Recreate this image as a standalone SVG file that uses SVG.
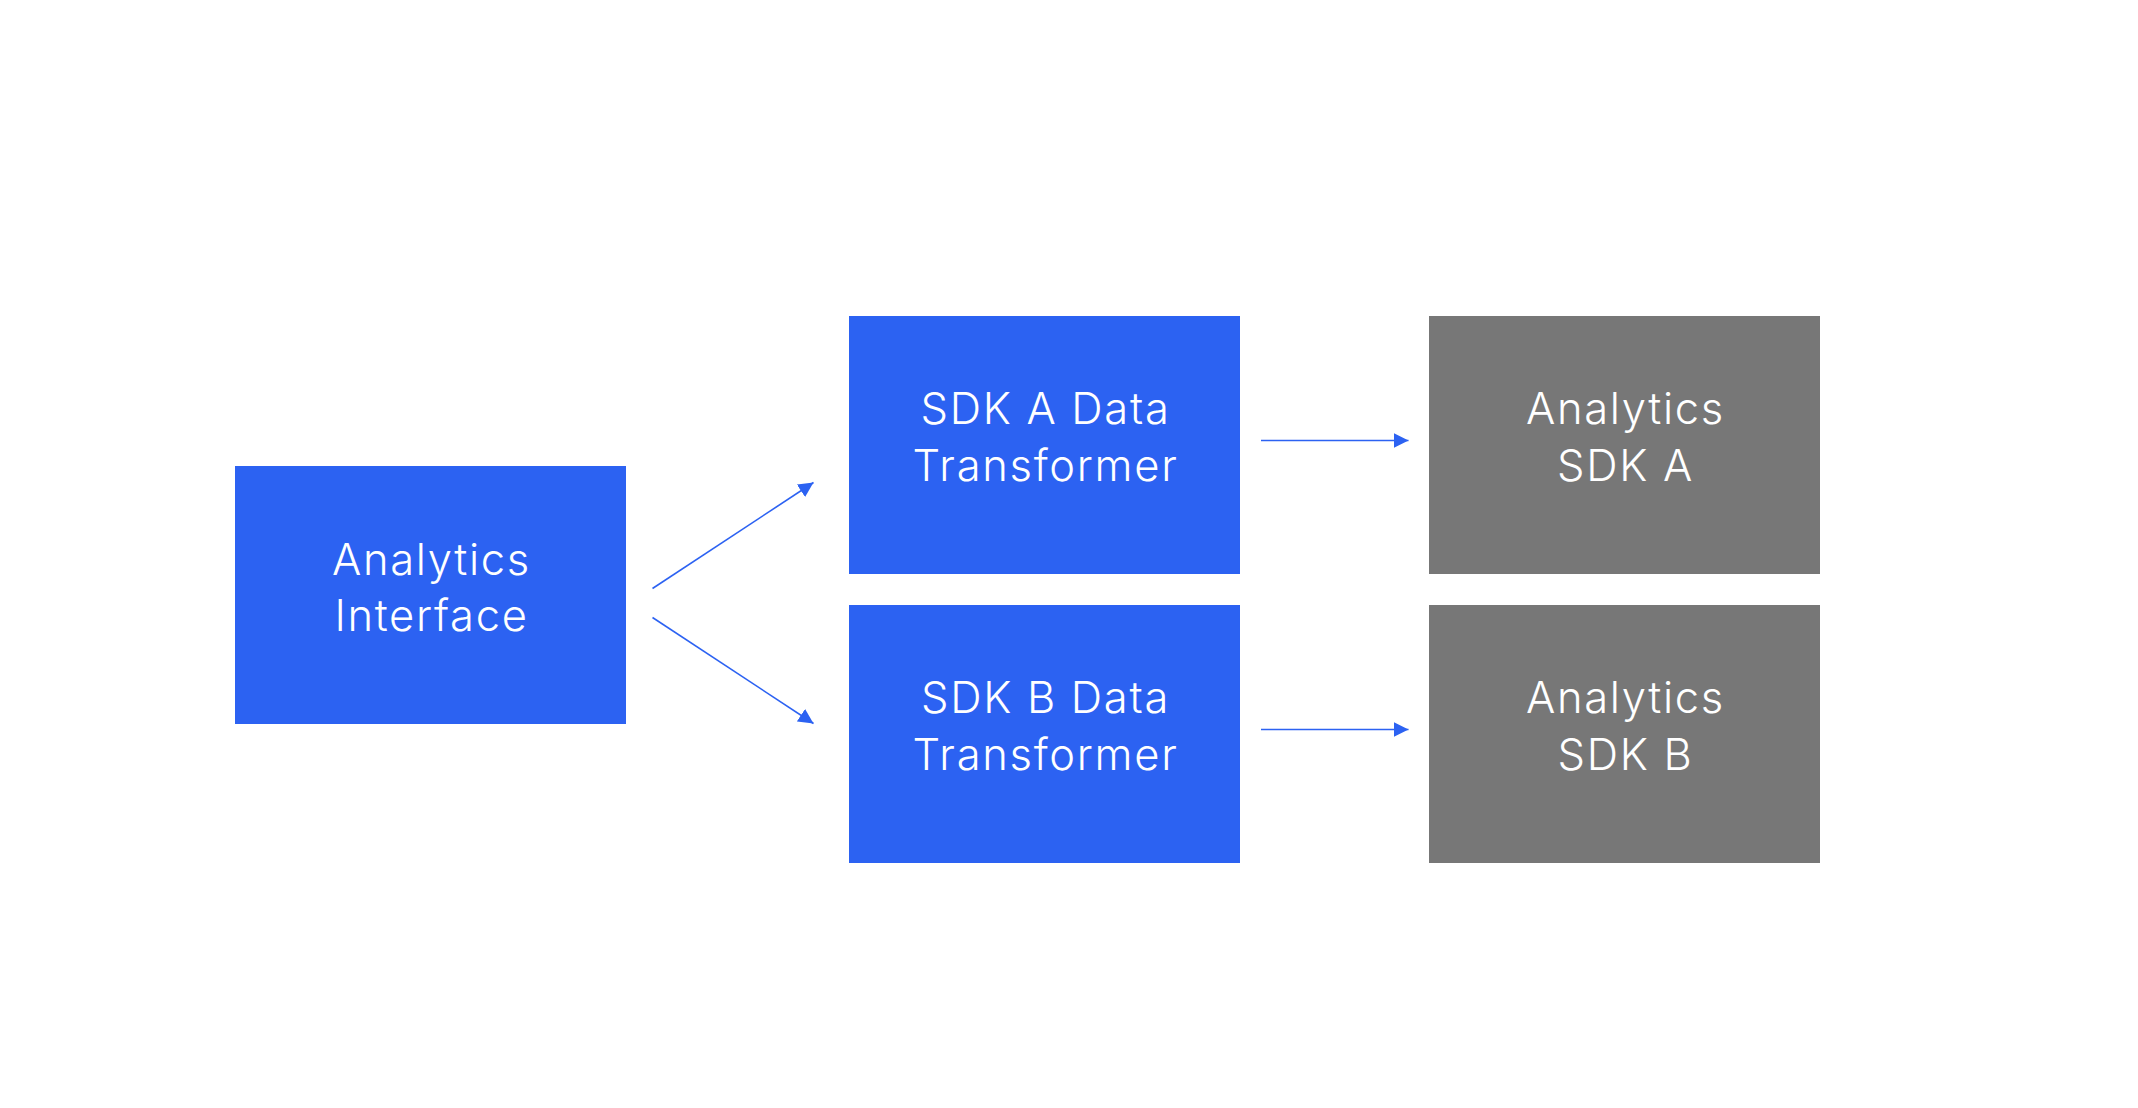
<svg xmlns="http://www.w3.org/2000/svg" width="2138" height="1108" viewBox="0 0 2138 1108">
  <style>
    .blue { fill: #2C62F2; }
    .gray { fill: #777777; }
    .lbl { font-family: Inter, "Noto Sans", sans-serif; font-weight: 300; font-size: 43.5px; letter-spacing: 1.7px; fill: #ffffff; text-anchor: middle; }
    .conn { stroke: #2C62F2; stroke-width: 1.6; fill: none; }
  </style>
  <defs>
    <marker id="ah" markerUnits="userSpaceOnUse" markerWidth="16" markerHeight="16" viewBox="0 0 16 16" refX="15" refY="8" orient="auto">
      <path d="M0,0.5 L15,8 L0,15.5 Z" fill="#2C62F2"/>
    </marker>
  </defs>
  <rect width="2138" height="1108" fill="#ffffff"/>
  <g id="analytics-interface">
    <rect class="blue" x="235" y="466" width="391" height="258"/>
    <text class="lbl" x="431.5" y="575">Analytics</text>
    <text class="lbl" x="431.5" y="631">Interface</text>
  </g>
  <g id="sdk-a-transformer">
    <rect class="blue" x="849" y="316" width="391" height="258"/>
    <text class="lbl" x="1045.5" y="424">SDK A Data</text>
    <text class="lbl" x="1045.5" y="481">Transformer</text>
  </g>
  <g id="sdk-b-transformer">
    <rect class="blue" x="849" y="605" width="391" height="258"/>
    <text class="lbl" x="1045.5" y="713">SDK B Data</text>
    <text class="lbl" x="1045.5" y="770">Transformer</text>
  </g>
  <g id="analytics-sdk-a">
    <rect class="gray" x="1429" y="316" width="391" height="258"/>
    <text class="lbl" x="1625.5" y="424">Analytics</text>
    <text class="lbl" x="1625.5" y="481">SDK A</text>
  </g>
  <g id="analytics-sdk-b">
    <rect class="gray" x="1429" y="605" width="391" height="258"/>
    <text class="lbl" x="1625.5" y="713">Analytics</text>
    <text class="lbl" x="1625.5" y="770">SDK B</text>
  </g>
  <g id="connectors">
    <line class="conn" x1="652.5" y1="588.5" x2="813.5" y2="482.5" marker-end="url(#ah)"/>
    <line class="conn" x1="652.5" y1="617.5" x2="813.5" y2="723.5" marker-end="url(#ah)"/>
    <line class="conn" x1="1261" y1="440.5" x2="1408.5" y2="440.5" marker-end="url(#ah)"/>
    <line class="conn" x1="1261" y1="729.5" x2="1408.5" y2="729.5" marker-end="url(#ah)"/>
  </g>
</svg>
